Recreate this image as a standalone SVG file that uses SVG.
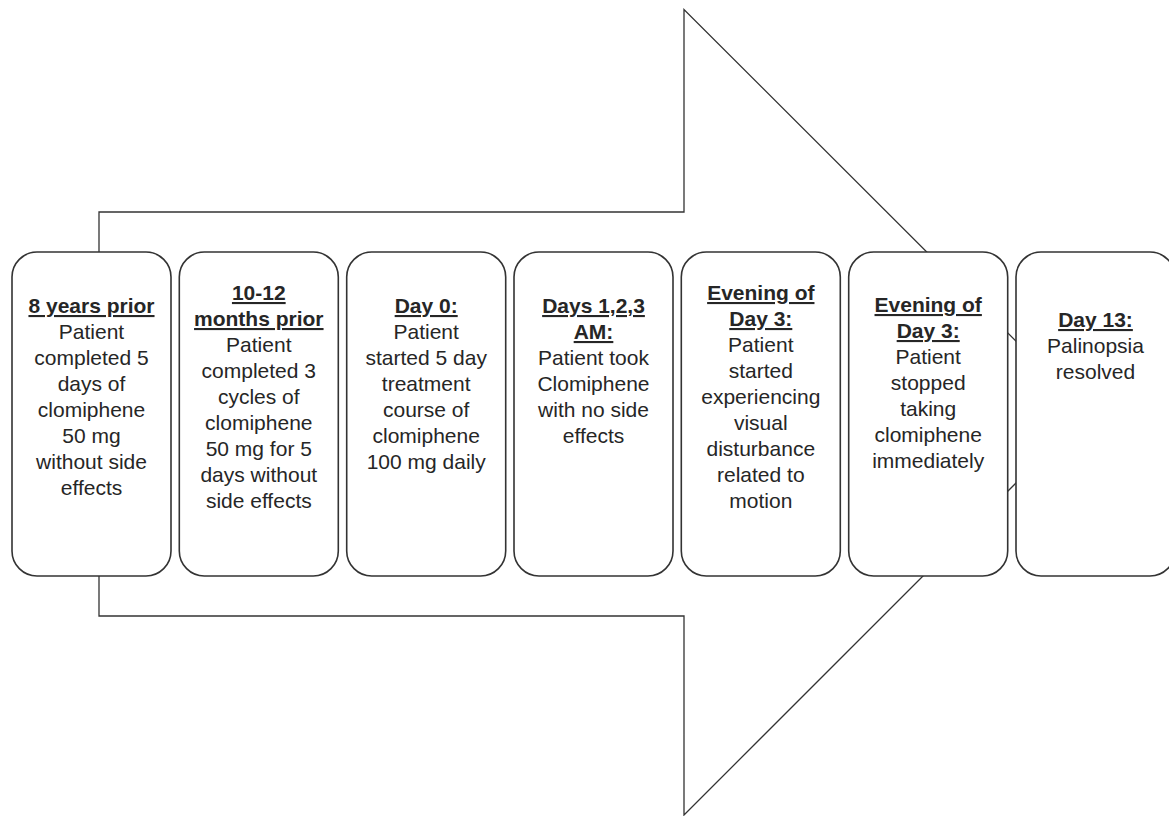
<svg xmlns="http://www.w3.org/2000/svg" width="1169" height="816" viewBox="0 0 1169 816">
<style>
.bg{fill:#fff}
.arrow{fill:#fff;stroke:#333;stroke-width:1.3;stroke-linejoin:miter}
.box{fill:#fff;stroke:#333;stroke-width:1.6}
text{font-family:"Liberation Sans",Arial,sans-serif;font-size:21px;fill:#262626;text-anchor:middle}
.h{font-weight:bold;text-decoration:underline}
</style>
<rect class="bg" x="0" y="0" width="1169" height="816"/>
<g id="connectors">
<polygon id="timeline-arrow" class="arrow" points="99,212 684,212 684,9.5 1087,412 684,815 684,616 99,616"/>
</g>
<g id="node1">
<rect class="box" x="12" y="252" width="159" height="324" rx="25"/>
<text><tspan class="h" x="91.5" y="313">8 years prior</tspan><tspan x="91.5" y="339">Patient</tspan><tspan x="91.5" y="365">completed 5</tspan><tspan x="91.5" y="391">days of</tspan><tspan x="91.5" y="417">clomiphene</tspan><tspan x="91.5" y="443">50 mg</tspan><tspan x="91.5" y="469">without side</tspan><tspan x="91.5" y="495">effects</tspan></text>
</g>
<g id="node2">
<rect class="box" x="179.3" y="252" width="159" height="324" rx="25"/>
<text><tspan class="h" x="258.8" y="300">10-12</tspan><tspan class="h" x="258.8" y="326">months prior</tspan><tspan x="258.8" y="352">Patient</tspan><tspan x="258.8" y="378">completed 3</tspan><tspan x="258.8" y="404">cycles of</tspan><tspan x="258.8" y="430">clomiphene</tspan><tspan x="258.8" y="456">50 mg for 5</tspan><tspan x="258.8" y="482">days without</tspan><tspan x="258.8" y="508">side effects</tspan></text>
</g>
<g id="node3">
<rect class="box" x="346.7" y="252" width="159" height="324" rx="25"/>
<text><tspan class="h" x="426.2" y="313">Day 0:</tspan><tspan x="426.2" y="339">Patient</tspan><tspan x="426.2" y="365">started 5 day</tspan><tspan x="426.2" y="391">treatment</tspan><tspan x="426.2" y="417">course of</tspan><tspan x="426.2" y="443">clomiphene</tspan><tspan x="426.2" y="469">100 mg daily</tspan></text>
</g>
<g id="node4">
<rect class="box" x="514" y="252" width="159" height="324" rx="25"/>
<text><tspan class="h" x="593.5" y="313">Days 1,2,3</tspan><tspan class="h" x="593.5" y="339">AM:</tspan><tspan x="593.5" y="365">Patient took</tspan><tspan x="593.5" y="391">Clomiphene</tspan><tspan x="593.5" y="417">with no side</tspan><tspan x="593.5" y="443">effects</tspan></text>
</g>
<g id="node5">
<rect class="box" x="681.3" y="252" width="159" height="324" rx="25"/>
<text><tspan class="h" x="760.8" y="300">Evening of</tspan><tspan class="h" x="760.8" y="326">Day 3:</tspan><tspan x="760.8" y="352">Patient</tspan><tspan x="760.8" y="378">started</tspan><tspan x="760.8" y="404">experiencing</tspan><tspan x="760.8" y="430">visual</tspan><tspan x="760.8" y="456">disturbance</tspan><tspan x="760.8" y="482">related to</tspan><tspan x="760.8" y="508">motion</tspan></text>
</g>
<g id="node6">
<rect class="box" x="848.7" y="252" width="159" height="324" rx="25"/>
<text><tspan class="h" x="928.2" y="312">Evening of</tspan><tspan class="h" x="928.2" y="338">Day 3:</tspan><tspan x="928.2" y="364">Patient</tspan><tspan x="928.2" y="390">stopped</tspan><tspan x="928.2" y="416">taking</tspan><tspan x="928.2" y="442">clomiphene</tspan><tspan x="928.2" y="468">immediately</tspan></text>
</g>
<g id="node7">
<rect class="box" x="1016" y="252" width="159" height="324" rx="25"/>
<text><tspan class="h" x="1095.5" y="327">Day 13:</tspan><tspan x="1095.5" y="353">Palinopsia</tspan><tspan x="1095.5" y="379">resolved</tspan></text>
</g>
</svg>
